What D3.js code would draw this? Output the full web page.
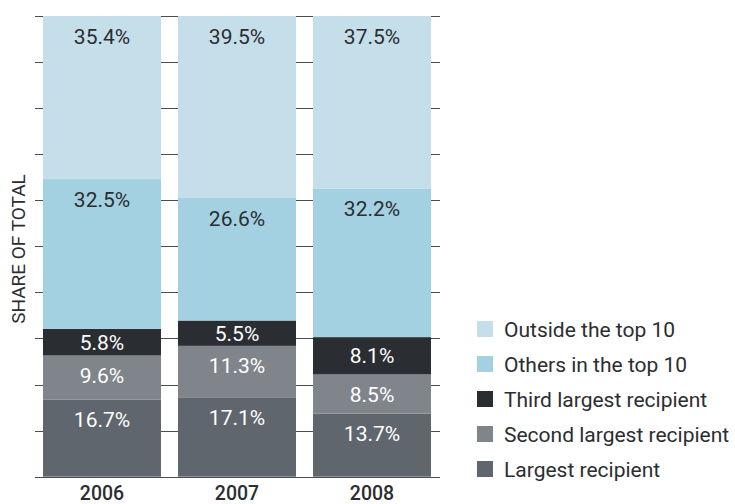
<!DOCTYPE html>
<html>
<head>
<meta charset="utf-8">
<script src="https://cdn.jsdelivr.net/npm/d3@7"></script>
<style>
  body { margin: 0; background: #fff; }
  text { font-family: Roboto, "Noto Sans", sans-serif; }
</style>
</head>
<body>
<div id="chart"></div>
<script>
// values, share of total in %
const years = ["2006", "2007", "2008"];
const series = ["Largest recipient", "Second largest recipient", "Third largest recipient", "Others in the top 10", "Outside the top 10"];
const largest = [16.7, 17.1, 13.7];
const second = [9.6, 11.3, 8.5];
const third = [5.8, 5.5, 8.1];
const othersTop10 = [32.5, 26.6, 32.2];
const outsideTop10 = [35.4, 39.5, 37.5];
const yTicks = [0, 10, 20, 30, 40, 50, 60, 70, 80, 90, 100];

const colors = ["#5f666d", "#7f858b", "#2a2d32", "#a3d1e1", "#c5dfea"];
const labelColors = ["#fff", "#fff", "#fff", "#2b2d31", "#2b2d31"];

const width = 735, height = 504;
const svg = d3.select("#chart").append("svg")
    .attr("width", width)
    .attr("height", height);

let rows = years.map((y, i) => ({
    year: y,
    s0: largest[i], s1: second[i], s2: third[i], s3: othersTop10[i], s4: outsideTop10[i]
}));
let keys = ["s0", "s1", "s2", "s3", "s4"];
let stacked = d3.stack().keys(keys)(rows);

let xScale = d3.scaleBand()
    .domain(years)
    .range([43, 431])
    .paddingInner(0.126)
    .paddingOuter(0);

let yScale = d3.scaleLinear()
    .domain([0, 100])
    .range([476.7, 16]);

// gridlines / ticks behind bars
svg.append("g").attr("id", "grid")
    .selectAll("line").data(yTicks).enter().append("line")
    .attr("x1", 35).attr("x2", 440)
    .attr("y1", d => Math.round(yScale(d)) + 0.5)
    .attr("y2", d => Math.round(yScale(d)) + 0.5)
    .attr("stroke", "#4a4d52")
    .attr("stroke-width", 1);

let layers = svg.append("g").attr("id", "bars")
    .selectAll("g").data(stacked).enter().append("g")
    .attr("fill", (d, i) => colors[i]);

layers.selectAll("rect").data(d => d).enter().append("rect")
    .attr("x", d => xScale(d.data.year))
    .attr("width", xScale.bandwidth())
    .attr("y", d => yScale(d[1]))
    .attr("height", d => yScale(d[0]) - yScale(d[1]));

// value labels, near the top of each segment
let labels = svg.append("g").attr("id", "labels");
stacked.forEach((layer, i) => {
    labels.selectAll(".lab" + i).data(layer).enter().append("text")
        .attr("class", "lab" + i)
        .attr("x", d => xScale(d.data.year) + xScale.bandwidth() / 2)
        .attr("y", d => {
            let top = yScale(d[1]), bot = yScale(d[0]);
            return Math.min(top + 20, (top + bot) / 2);
        })
        .attr("dy", "0.36em")
        .attr("text-anchor", "middle")
        .attr("font-size", 21)
        .attr("fill", labelColors[i])
        .text(d => d.data[keys[i]].toFixed(1) + "%");
});

// year labels
let xAxis = d3.axisBottom(xScale).tickSize(0).tickPadding(0);
let xg = svg.append("g").attr("transform", "translate(0,500)").call(xAxis);
xg.select(".domain").remove();
xg.selectAll("text")
    .attr("font-size", 19.5)
    .attr("font-family", "Roboto, sans-serif")
    .attr("font-weight", 500)
    .attr("fill", "#2b2d31")
    .attr("y", 0)
    .attr("dy", 0);

// y axis title
svg.append("text")
    .attr("transform", "translate(25,249) rotate(-90)")
    .attr("text-anchor", "middle")
    .attr("font-size", 19)
    .attr("fill", "#2b2d31")
    .text("SHARE OF TOTAL");

// legend, top entry first
let legendOrder = [4, 3, 2, 1, 0];
let legend = svg.append("g").attr("id", "legend")
    .selectAll("g").data(legendOrder).enter().append("g")
    .attr("transform", (d, i) => "translate(477," + (329 + i * 35) + ")");
legend.append("rect")
    .attr("x", 0).attr("y", -8)
    .attr("width", 16).attr("height", 16)
    .attr("fill", d => colors[d]);
legend.append("text")
    .attr("x", 27).attr("y", 0)
    .attr("dy", "0.36em")
    .attr("font-size", 21)
    .attr("fill", "#2b2d31")
    .text(d => series[d]);
</script>
</body>
</html>
